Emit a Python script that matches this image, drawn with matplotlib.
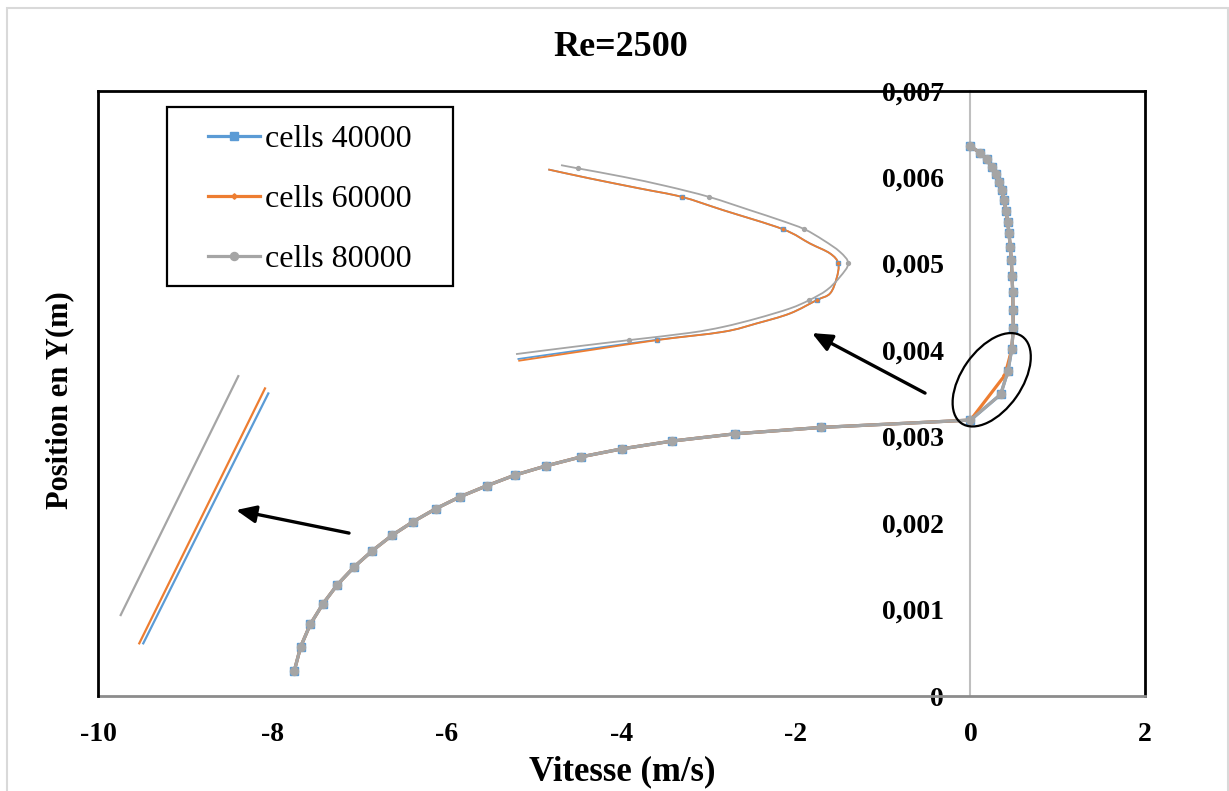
import matplotlib
matplotlib.use('Agg')
import matplotlib.pyplot as plt
from matplotlib.patches import Ellipse, Rectangle, PathPatch
from matplotlib.path import Path
from matplotlib.lines import Line2D
import matplotlib.transforms as mtransforms
from matplotlib.ticker import FuncFormatter

plt.rcParams['font.family'] = ['Liberation Serif', 'DejaVu Serif']
plt.rcParams['axes.unicode_minus'] = False

# ---------------- data ----------------
labels = ['cells 40000', 'cells 60000', 'cells 80000']
colors = ['#5B9BD5', '#ED7D31', '#A5A5A5']

y_40000 = [0.006358, 0.006281, 0.006205, 0.006119, 0.006035, 0.005946, 0.005850, 0.005734,
           0.005607, 0.005483, 0.005349, 0.005194, 0.005040, 0.004859, 0.004667, 0.004462,
           0.004251, 0.004008, 0.003761, 0.003488, 0.003191, 0.003106, 0.003032, 0.002948,
           0.002859, 0.002766, 0.002662, 0.002555, 0.002431, 0.002304, 0.002165, 0.002015,
           0.001858, 0.001680, 0.001495, 0.001287, 0.001067, 0.000829, 0.000570, 0.000292]
v_40000 = [0.0, 0.109, 0.186, 0.243, 0.289, 0.327, 0.358, 0.384,
           0.407, 0.426, 0.441, 0.456, 0.468, 0.476, 0.484, 0.487,
           0.491, 0.472, 0.430, 0.346, 0.0, -1.710, -2.699, -3.421,
           -3.991, -4.461, -4.862, -5.221, -5.545, -5.851, -6.130, -6.390,
           -6.630, -6.856, -7.062, -7.257, -7.421, -7.567, -7.677, -7.750]

y_60000 = [0.006358, 0.006281, 0.006205, 0.006119, 0.006035, 0.005946, 0.005850, 0.005734,
           0.005607, 0.005483, 0.005349, 0.005194, 0.005040, 0.004859, 0.004667, 0.004462,
           0.004251, 0.004008, 0.003711, 0.003191, 0.003106, 0.003032, 0.002948,
           0.002859, 0.002766, 0.002662, 0.002555, 0.002431, 0.002304, 0.002165, 0.002015,
           0.001858, 0.001680, 0.001495, 0.001287, 0.001067, 0.000829, 0.000570, 0.000292]
v_60000 = [0.0, 0.109, 0.186, 0.243, 0.289, 0.327, 0.358, 0.384,
           0.407, 0.426, 0.441, 0.456, 0.468, 0.476, 0.484, 0.487,
           0.491, 0.472, 0.395, 0.0, -1.710, -2.699, -3.421,
           -3.991, -4.461, -4.862, -5.221, -5.545, -5.851, -6.130, -6.390,
           -6.630, -6.856, -7.062, -7.257, -7.421, -7.567, -7.677, -7.750]

y_80000 = list(y_40000)
v_80000 = list(v_40000)

# magnified detail (upper zoom picture), drawn in main-axes units
zoom1_v_80000 = [-4.693, -4.495, -3.979, -3.482, -2.997, -2.527, -2.183, -1.905, -1.687, -1.496,
                 -1.401, -1.496, -1.648, -1.848, -2.069, -2.450, -2.833, -3.215, -3.911, -4.552, -5.209]
zoom1_y_80000 = [0.006139, 0.006101, 0.006004, 0.005896, 0.005772, 0.005618, 0.005503, 0.005399,
                 0.005272, 0.005136, 0.005002, 0.004847, 0.004694, 0.004578, 0.004482, 0.004366,
                 0.004269, 0.004200, 0.004116, 0.004038, 0.003954]
zoom1_mk_80000 = [1, 4, 7, 10, 13, 18]

zoom1_v_60000 = [-4.839, -4.361, -3.788, -3.310, -2.833, -2.152, -1.840, -1.610, -1.515, -1.535,
                 -1.610, -1.763, -2.069, -2.450, -2.833, -3.590, -4.361, -5.183]
zoom1_y_60000 = [0.006089, 0.005985, 0.005869, 0.005772, 0.005618, 0.005399, 0.005233, 0.005118,
                 0.005002, 0.004830, 0.004655, 0.004578, 0.004424, 0.004309, 0.004212, 0.004116,
                 0.004000, 0.003876]
zoom1_mk_60000 = [3, 5, 8, 11, 15]

zoom1_v_40000 = [-4.839, -4.361, -3.788, -3.310, -2.833, -2.152, -1.840, -1.610, -1.515, -1.535,
                 -1.610, -1.763, -2.069, -2.450, -2.833, -3.590, -4.361, -5.192]
zoom1_y_40000 = [0.006089, 0.005985, 0.005869, 0.005772, 0.005618, 0.005399, 0.005233, 0.005118,
                 0.005002, 0.004830, 0.004655, 0.004578, 0.004424, 0.004309, 0.004212, 0.004120,
                 0.004015, 0.003896]

# magnified detail (lower-left zoom picture)
zoom2_v_80000 = [-8.392, -9.740]
zoom2_y_80000 = [0.003699, 0.000936]
zoom2_v_60000 = [-8.086, -9.527]
zoom2_y_60000 = [0.003557, 0.000609]
zoom2_v_40000 = [-8.048, -9.481]
zoom2_y_40000 = [0.003499, 0.000609]

# annotations
arrow1_tail, arrow1_head = (-0.521, 0.003503), (-1.817, 0.004197)
arrow2_tail, arrow2_head = (-7.123, 0.001884), (-8.418, 0.002150)
ellipse_center = (0.243, 0.003657)

x_ticks = [-10, -8, -6, -4, -2, 0, 2]
y_ticks = [0, 0.001, 0.002, 0.003, 0.004, 0.005, 0.006, 0.007]

# ---------------- helpers ----------------
def smooth_path(xs, ys, t=1 / 6):
    """Smoothed line through the points (cubic Bezier segments, like a spreadsheet 'smoothed line')."""
    n = len(xs)
    verts = [(xs[0], ys[0])]
    codes = [Path.MOVETO]
    for i in range(n - 1):
        x0, y0 = xs[max(i - 1, 0)], ys[max(i - 1, 0)]
        x1, y1 = xs[i], ys[i]
        x2, y2 = xs[i + 1], ys[i + 1]
        x3, y3 = xs[min(i + 2, n - 1)], ys[min(i + 2, n - 1)]
        c1 = (x1 + (x2 - x0) * t, y1 + (y2 - y0) * t)
        c2 = (x2 - (x3 - x1) * t, y2 - (y3 - y1) * t)
        verts += [c1, c2, (x2, y2)]
        codes += [Path.CURVE4] * 3
    return Path(verts, codes)


# ---------------- figure ----------------
W, H = 1229, 791
fig = plt.figure(figsize=(W / 100, H / 100), dpi=100)
ax = fig.add_axes([98 / W, 1 - 696 / H, (1145 - 98) / W, (696 - 90.7) / H])
ax.set_xlim(-10, 2)
ax.set_ylim(0, 0.007)

# outer light border
fig.patches.append(Rectangle((7 / W, -0.02), (1228 - 7) / W, (H - 8) / H + 0.02,
                             transform=fig.transFigure, fill=False,
                             edgecolor='#D9D9D9', lw=1.5, zorder=0))

# main series
ax.plot(v_40000, y_40000, color=colors[0], lw=2.3, marker='s', ms=6.4,
        mfc=colors[0], mec=colors[0], label=labels[0], zorder=3)
ax.plot(v_60000, y_60000, color=colors[1], lw=2.3, marker='D', ms=2.8,
        mfc=colors[1], mec=colors[1], label=labels[1], zorder=4)
ax.plot(v_80000, y_80000, color=colors[2], lw=2.3, marker='o', ms=5.8,
        mfc=colors[2], mec=colors[2], label=labels[2], zorder=5)

# zoom picture 1 (smoothed curves)
for xs, ys, c, z in [(zoom1_v_40000, zoom1_y_40000, colors[0], 2.0),
                     (zoom1_v_60000, zoom1_y_60000, colors[1], 2.1),
                     (zoom1_v_80000, zoom1_y_80000, colors[2], 2.2)]:
    ax.add_patch(PathPatch(smooth_path(xs, ys), fill=False, edgecolor=c, lw=1.3, zorder=z))
ax.plot([zoom1_v_40000[i] for i in zoom1_mk_60000], [zoom1_y_40000[i] for i in zoom1_mk_60000],
        ls='none', marker='s', ms=2.6, color=colors[0], zorder=2.3)
ax.plot([zoom1_v_60000[i] for i in zoom1_mk_60000], [zoom1_y_60000[i] for i in zoom1_mk_60000],
        ls='none', marker='D', ms=1.6, color=colors[1], zorder=2.4)
ax.plot([zoom1_v_80000[i] for i in zoom1_mk_80000], [zoom1_y_80000[i] for i in zoom1_mk_80000],
        ls='none', marker='o', ms=2.8, color=colors[2], zorder=2.5)

# zoom picture 2
ax.plot(zoom2_v_40000, zoom2_y_40000, color=colors[0], lw=1.6, zorder=2)
ax.plot(zoom2_v_60000, zoom2_y_60000, color=colors[1], lw=1.6, zorder=2.1)
ax.plot(zoom2_v_80000, zoom2_y_80000, color=colors[2], lw=1.6, zorder=2.2)

# arrows
for tail, head in [(arrow1_tail, arrow1_head), (arrow2_tail, arrow2_head)]:
    ax.annotate('', xy=head, xytext=tail,
                arrowprops=dict(arrowstyle='-|>,head_length=0.8,head_width=0.35',
                                color='black', lw=2.4, mutation_scale=15,
                                shrinkA=0, shrinkB=0), zorder=6)

# ellipse (size in pixels)
trans = fig.dpi_scale_trans + mtransforms.ScaledTranslation(ellipse_center[0], ellipse_center[1], ax.transData)
ax.add_patch(Ellipse((0, 0), 106 / 100, 60 / 100, angle=55, transform=trans,
                     fill=False, edgecolor='black', lw=1.6, zorder=7, clip_on=False))

# axes styling
for s in ['top', 'right']:
    ax.spines[s].set_color('black')
    ax.spines[s].set_linewidth(2)
ax.spines['bottom'].set_color('#8C8C8C')
ax.spines['bottom'].set_linewidth(2)
ax.spines['left'].set_position(('data', 0))
ax.spines['left'].set_color('#BFBFBF')
ax.spines['left'].set_linewidth(1.5)
ax.spines['left'].set_zorder(1)
ax.add_line(Line2D([0, 0], [0, 1], transform=ax.transAxes, color='black',
                   lw=2, clip_on=False, zorder=10))

ax.set_xticks(x_ticks)
ax.set_yticks(y_ticks)
ax.yaxis.set_major_formatter(FuncFormatter(lambda v, p: '0' if v == 0 else f'{v:.3f}'.replace('.', ',')))
ax.tick_params(axis='both', length=0, labelsize=20)
ax.tick_params(axis='x', pad=19)
ax.tick_params(axis='y', pad=19)
for lab in ax.get_xticklabels() + ax.get_yticklabels():
    lab.set_fontweight('bold')

fig.text(621 / W, 1 - 48 / H, 'Re=2500', ha='center', va='center',
         fontsize=26, fontweight='bold')
fig.text(622 / W, 1 - 772 / H, 'Vitesse (m/s)', ha='center', va='center',
         fontsize=25, fontweight='bold')
fig.text(60 / W, 1 - 400 / H, 'Position en Y(m)', ha='center', va='center',
         fontsize=22, fontweight='bold', rotation=90)

# legend
leg = ax.legend(loc='upper left', bbox_to_anchor=(208 / W, 1 - 125 / H),
                bbox_transform=fig.transFigure, frameon=False, fontsize=23,
                borderpad=0, borderaxespad=0, handlelength=1.63, handletextpad=0.16,
                labelspacing=0.96)
fig.patches.append(Rectangle((167 / W, 1 - 286 / H), (453 - 167) / W, (286 - 107) / H,
                             transform=fig.transFigure, fill=False,
                             edgecolor='black', lw=1.6, zorder=5))

fig.savefig('out.png', dpi=100)
